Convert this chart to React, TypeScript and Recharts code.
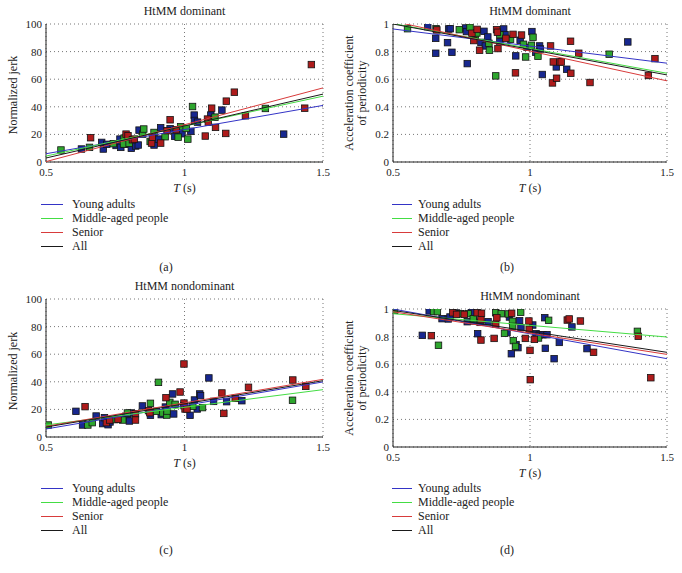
import { CartesianGrid, ComposedChart, Scatter, XAxis, YAxis } from 'recharts';

type Pt = [number, number];

const tTicks = [0.5, 1, 1.5];
const fitT = [0.5, 1.5];
const jerkTicks = [0, 20, 40, 60, 80, 100];
const acpTicks = [0, 0.2, 0.4, 0.6, 0.8, 1];
const groupNames = ['Young adults', 'Middle-aged people', 'Senior', 'All'];

// (a) HtMM dominant - normalized jerk
const jerkDomYoung: Pt[] = [
  [0.628, 9.4], [0.701, 14.2], [0.707, 9.4], [0.719, 12.8], [0.753, 12.0], [0.767, 16.6], [0.77, 10.6],
  [0.784, 12.8], [0.808, 9.9], [0.824, 11.6], [0.833, 12.3], [0.836, 23.1], [0.89, 12.3], [0.906, 16.6],
  [0.914, 24.8], [0.948, 24.1], [0.965, 18.6], [0.991, 20.5], [1.023, 22.2], [1.035, 34.0], [1.036, 30.1],
  [1.047, 28.9], [1.095, 34.0], [1.135, 37.6], [1.358, 20.2],
];
const jerkDomMiddle: Pt[] = [
  [0.554, 8.7], [0.657, 10.6], [0.743, 13.3], [0.782, 17.3], [0.78, 13.0], [0.8, 13.5], [0.849, 20.2],
  [0.853, 23.9], [0.876, 14.9], [0.89, 21.4], [0.93, 18.3], [0.977, 18.0], [0.986, 25.5], [1.006, 24.3],
  [1.012, 16.6], [1.029, 40.2], [1.11, 32.5], [1.292, 38.8],
];
const jerkDomSenior: Pt[] = [
  [0.661, 17.6], [0.789, 20.2], [0.796, 19.0], [0.812, 16.1], [0.819, 16.6], [0.881, 13.7], [0.884, 18.0],
  [0.914, 13.7], [0.937, 22.7], [0.948, 30.6], [0.97, 23.4], [1.075, 18.8], [1.083, 31.1], [1.086, 28.9],
  [1.098, 39.0], [1.112, 25.1], [1.149, 20.7], [1.151, 44.1], [1.18, 50.6], [1.22, 33.5], [1.434, 39.0],
  [1.458, 70.6],
];
// fitted lines: value at T = 0.5 and T = 1.5 (young, middle, senior, all)
const jerkDomFit: Pt[] = [[6.0, 41.0], [4.3, 47.7], [0.3, 53.7], [2.9, 49.2]];

// (b) HtMM dominant - acceleration coefficient of periodicity
const acpDomYoung: Pt[] = [
  [0.627, 0.981], [0.656, 0.896], [0.656, 0.788], [0.699, 0.865], [0.703, 0.964], [0.709, 0.966],
  [0.715, 0.795], [0.765, 0.971], [0.768, 0.945], [0.771, 0.713], [0.821, 0.867], [0.832, 0.947],
  [0.837, 0.841], [0.846, 0.906], [0.89, 0.872], [0.904, 0.964], [0.909, 0.923], [0.948, 0.769],
  [0.964, 0.882], [0.989, 0.831], [1.007, 0.945], [1.021, 0.795], [1.035, 0.841], [1.038, 0.819],
  [1.045, 0.634], [1.096, 0.689], [1.134, 0.672], [1.357, 0.87],
];
const acpDomMiddle: Pt[] = [
  [0.553, 0.966], [0.657, 0.966], [0.742, 0.959], [0.781, 0.976], [0.8, 0.913], [0.806, 0.935],
  [0.85, 0.86], [0.852, 0.81], [0.875, 0.624], [0.89, 0.923], [0.929, 0.889], [0.976, 0.853],
  [0.984, 0.761], [1.005, 0.846], [1.011, 0.904], [1.029, 0.766], [1.289, 0.781],
];
const acpDomSenior: Pt[] = [
  [0.66, 0.957], [0.788, 0.933], [0.795, 0.88], [0.807, 0.961], [0.816, 0.81], [0.878, 0.959],
  [0.881, 0.94], [0.883, 0.822], [0.912, 0.896], [0.938, 0.925], [0.947, 0.646], [0.969, 0.92],
  [1.075, 0.841], [1.082, 0.573], [1.085, 0.725], [1.097, 0.607], [1.109, 0.725], [1.114, 0.725],
  [1.148, 0.875], [1.149, 0.643], [1.178, 0.788], [1.219, 0.576], [1.432, 0.627], [1.456, 0.749],
];
const acpDomFit: Pt[] = [[0.964, 0.716], [1.003, 0.643], [1.02, 0.588], [1.0, 0.631]];

// (c) HtMM nondominant - normalized jerk
const jerkNonYoung: Pt[] = [
  [0.608, 18.6], [0.632, 8.7], [0.681, 15.2], [0.705, 9.7], [0.711, 14.0], [0.724, 8.9], [0.731, 10.9],
  [0.788, 15.0], [0.794, 13.3], [0.801, 11.6], [0.807, 17.4], [0.848, 22.5], [0.877, 15.7], [0.916, 16.2],
  [0.931, 21.7], [0.957, 31.2], [0.961, 16.7], [1.02, 15.7], [1.036, 26.8], [1.046, 20.3], [1.055, 31.2],
  [1.058, 30.0], [1.088, 42.8], [1.105, 25.8], [1.152, 25.6], [1.207, 26.3],
];
const jerkNonMiddle: Pt[] = [
  [0.508, 8.7], [0.651, 8.7], [0.667, 10.4], [0.748, 12.6], [0.777, 12.3], [0.794, 17.4], [0.877, 24.4],
  [0.898, 18.6], [0.906, 39.6], [0.922, 17.4], [0.936, 15.9], [0.937, 18.8], [0.947, 25.1], [0.966, 23.7],
  [1.03, 22.2], [1.065, 21.3], [1.39, 26.6],
];
const jerkNonSenior: Pt[] = [
  [0.641, 22.0], [0.718, 10.4], [0.73, 12.3], [0.76, 12.8], [0.823, 16.9], [0.823, 12.3], [0.87, 19.1],
  [0.875, 17.6], [0.933, 28.5], [0.984, 32.6], [0.998, 52.9], [0.998, 24.6], [0.998, 22.7], [1.002, 20.3],
  [1.009, 20.3], [1.135, 31.9], [1.142, 17.1], [1.183, 28.0], [1.231, 36.0], [1.391, 41.3], [1.438, 36.7],
];
const jerkNonFit: Pt[] = [[5.8, 39.9], [8.7, 34.3], [7.7, 41.8], [7.2, 40.8]];

// (d) HtMM nondominant - acceleration coefficient of periodicity
const acpNonYoung: Pt[] = [
  [0.607, 0.809], [0.632, 0.986], [0.679, 0.93], [0.702, 0.928], [0.708, 0.942], [0.732, 0.971],
  [0.771, 0.908], [0.786, 0.976], [0.794, 0.913], [0.809, 0.821], [0.818, 0.903], [0.847, 0.908],
  [0.916, 0.829], [0.925, 0.942], [0.932, 0.676], [0.949, 0.742], [0.956, 0.72], [0.962, 0.915],
  [0.967, 0.865], [1.01, 0.884], [1.022, 0.821], [1.034, 0.812], [1.047, 0.814], [1.054, 0.937],
  [1.056, 0.715], [1.062, 0.814], [1.088, 0.64], [1.107, 0.758], [1.153, 0.87], [1.208, 0.713],
];
const acpNonMiddle: Pt[] = [
  [0.506, 0.99], [0.648, 0.981], [0.662, 0.981], [0.666, 0.737], [0.746, 0.966], [0.774, 0.966],
  [0.793, 0.93], [0.875, 0.973], [0.895, 0.966], [0.907, 0.824], [0.921, 0.964], [0.936, 0.911],
  [0.937, 0.874], [0.939, 0.771], [0.947, 0.729], [0.966, 0.976], [1.031, 0.79], [1.068, 0.918],
  [1.392, 0.838],
];
const acpNonSenior: Pt[] = [
  [0.64, 0.807], [0.718, 0.973], [0.732, 0.961], [0.76, 0.961], [0.807, 0.973], [0.823, 0.969],
  [0.821, 0.923], [0.821, 0.775], [0.869, 0.787], [0.875, 0.889], [0.879, 0.937], [0.933, 0.969],
  [0.983, 0.787], [0.996, 0.913], [0.997, 0.853], [1.0, 0.7], [1.001, 0.488], [1.016, 0.78],
  [1.136, 0.92], [1.143, 0.928], [1.184, 0.913], [1.232, 0.686], [1.395, 0.802], [1.441, 0.502],
];
const acpNonFit: Pt[] = [[1.0, 0.64], [0.966, 0.797], [0.98, 0.671], [0.99, 0.686]];

const MARK_COLORS = ['#17278f', '#2ea62e', '#ae1b1b'];
const FIT_COLORS = ['#3434c6', '#44dd44', '#d83b3b', '#1a1a1a'];
const FONT = 'Liberation Serif, Times New Roman, serif';
const INK = '#222';

const toRows = (pts: Pt[]) => pts.map(([x, y]) => ({ x, y }));
const fitRows = (f: Pt) => fitT.map((x, i) => ({ x, y: f[i] }));

const square = (color: string) => (props: any) => (
  <rect x={props.cx - 3.25} y={props.cy - 3.25} width={6.5} height={6.5} fill={color} stroke="#141414" strokeWidth={0.8} />
);
const noShape = () => <g />;

type PanelProps = {
  left: number;
  top: number;
  width: number;
  height: number;
  title: string;
  yMax: number;
  yTicks: number[];
  groups: Pt[][];
  fits: Pt[];
  yLabel: string[];
  yLabelX: number;
  yLabelY: number;
};

function Panel(p: PanelProps) {
  const tick = { fontSize: 11, fill: INK, fontFamily: FONT };
  return (
    <>
      <div style={{ position: 'absolute', left: p.left + p.width / 2, top: p.top - 13, transform: 'translate(-50%, -50%)', fontSize: 12, whiteSpace: 'nowrap', color: INK }}>
        {p.title}
      </div>
      <div style={{ position: 'absolute', left: p.yLabelX, top: p.yLabelY, transform: 'translate(-50%, -50%) rotate(-90deg)', fontSize: 12, lineHeight: '13px', textAlign: 'center', whiteSpace: 'nowrap', color: INK }}>
        {p.yLabel.map((l) => (
          <div key={l}>{l}</div>
        ))}
      </div>
      <div style={{ position: 'absolute', left: p.left + p.width / 2, top: p.top + p.height + 26, transform: 'translate(-50%, -50%)', fontSize: 12, whiteSpace: 'nowrap', color: INK }}>
        <i>T</i> (s)
      </div>
      <div style={{ position: 'absolute', left: p.left - 40, top: p.top - 6 }}>
        <ComposedChart width={p.width + 48} height={p.height + 26} margin={{ top: 6, right: 8, left: 0, bottom: 0 }}>
          <CartesianGrid stroke="#777" strokeDasharray="1 3" />
          <XAxis dataKey="x" type="number" domain={[0.5, 1.5]} ticks={tTicks} allowDataOverflow height={20}
            tick={tick} tickLine={false} tickSize={2} tickMargin={4} axisLine={{ stroke: INK }} />
          <XAxis xAxisId="top" orientation="top" type="number" domain={[0.5, 1.5]} height={0}
            tick={false} tickLine={false} axisLine={{ stroke: INK }} />
          <YAxis dataKey="y" type="number" domain={[0, p.yMax]} ticks={p.yTicks} allowDataOverflow width={40}
            tick={tick} tickLine={false} tickSize={2} tickMargin={2} axisLine={{ stroke: INK }} />
          <YAxis yAxisId="right" orientation="right" type="number" domain={[0, p.yMax]} width={0}
            tick={false} tickLine={false} axisLine={{ stroke: INK }} />
          {p.groups.map((g, i) => (
            <Scatter key={`g${i}`} data={toRows(g)} shape={square(MARK_COLORS[i])} isAnimationActive={false} legendType="none" />
          ))}
          {p.fits.map((f, i) => (
            <Scatter key={`f${i}`} data={fitRows(f)} line={{ stroke: FIT_COLORS[i], strokeWidth: 1 }} shape={noShape}
              isAnimationActive={false} legendType="none" />
          ))}
        </ComposedChart>
      </div>
    </>
  );
}

function LegendBlock({ x, y, lineW, textX }: { x: number; y: number; lineW: number; textX: number }) {
  return (
    <>
      {groupNames.map((name, i) => (
        <div key={name}>
          <div style={{ position: 'absolute', left: x, top: y + i * 14, width: lineW, height: 0, borderTop: `1px solid ${FIT_COLORS[i]}` }} />
          <div style={{ position: 'absolute', left: textX, top: y + i * 14, transform: 'translateY(-50%)', fontSize: 12, whiteSpace: 'nowrap', color: INK }}>
            {name}
          </div>
        </div>
      ))}
    </>
  );
}

function Caption({ x, y, text }: { x: number; y: number; text: string }) {
  return (
    <div style={{ position: 'absolute', left: x, top: y, transform: 'translate(-50%, -50%)', fontSize: 12, color: INK }}>{text}</div>
  );
}

export default function App() {
  return (
    <div style={{ position: 'absolute', left: 0, top: 0, width: 682, height: 573, background: '#fff', fontFamily: FONT, overflow: 'hidden' }}>
      <Panel left={46} top={24} width={277} height={138} title="HtMM dominant" yMax={100} yTicks={jerkTicks}
        groups={[jerkDomYoung, jerkDomMiddle, jerkDomSenior]} fits={jerkDomFit}
        yLabel={['Normalized jerk']} yLabelX={13} yLabelY={95} />
      <Panel left={393} top={24} width={274} height={138} title="HtMM dominant" yMax={1} yTicks={acpTicks}
        groups={[acpDomYoung, acpDomMiddle, acpDomSenior]} fits={acpDomFit}
        yLabel={['Acceleration coefficient', 'of periodicity']} yLabelX={356} yLabelY={93} />
      <Panel left={46} top={299} width={277} height={138} title="HtMM nondominant" yMax={100} yTicks={jerkTicks}
        groups={[jerkNonYoung, jerkNonMiddle, jerkNonSenior]} fits={jerkNonFit}
        yLabel={['Normalized jerk']} yLabelX={13} yLabelY={371} />
      <Panel left={393} top={309} width={274} height={138} title="HtMM nondominant" yMax={1} yTicks={acpTicks}
        groups={[acpNonYoung, acpNonMiddle, acpNonSenior]} fits={acpNonFit}
        yLabel={['Acceleration coefficient', 'of periodicity']} yLabelX={356} yLabelY={378} />

      <LegendBlock x={41} y={204} lineW={22} textX={72} />
      <LegendBlock x={392} y={204} lineW={20} textX={418} />
      <LegendBlock x={41} y={488} lineW={22} textX={72} />
      <LegendBlock x={392} y={488} lineW={20} textX={418} />

      <Caption x={166} y={267} text="(a)" />
      <Caption x={507} y={267} text="(b)" />
      <Caption x={166} y={550} text="(c)" />
      <Caption x={507} y={550} text="(d)" />
    </div>
  );
}
